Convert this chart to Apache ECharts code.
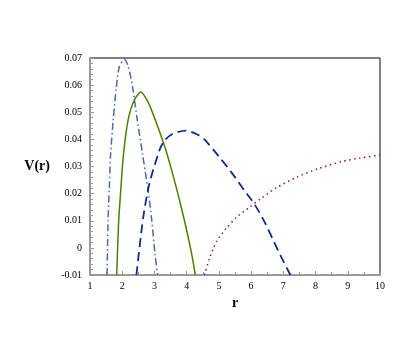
<!DOCTYPE html>
<html>
<head>
<meta charset="utf-8">
<script src="https://cdn.jsdelivr.net/npm/echarts@6/dist/echarts.min.js"></script>
<style>
    html, body { margin: 0; padding: 0; background: #fff; }
    #chart-container { width: 415px; height: 355px; }
</style>
</head>
<body>
<div id="chart-container"></div>
<script>
// 點劃線 (藍灰)
const dashDotR = [1.53, 1.56, 1.60, 1.64, 1.72, 1.82, 1.91, 2.06, 2.19, 2.32, 2.47, 2.63, 2.79, 2.92, 3.02, 3.10];
const dashDotV = [-0.01, 0.0098, 0.0222, 0.0346, 0.0470, 0.0594, 0.0668, 0.0696, 0.0668, 0.0594, 0.0470, 0.0346, 0.0222, 0.0098, -0.0026, -0.01];

// 實線 (綠)
const solidR = [1.83, 1.85, 1.89, 1.96, 2.04, 2.18, 2.37, 2.58, 2.79, 2.99, 3.36, 3.65, 3.91, 4.14, 4.27];
const solidV = [-0.01, -0.0026, 0.0098, 0.0222, 0.0346, 0.0470, 0.0544, 0.0575, 0.0540, 0.0483, 0.0358, 0.0235, 0.0111, -0.0013, -0.01];

// 虛線 (深藍)
const dashR = [2.44, 2.65, 2.84, 3.15, 3.31, 3.56, 3.98, 4.30, 4.55, 5.02, 5.43, 5.80, 6.11, 6.42, 6.68, 6.94, 7.22];
const dashV = [-0.01, 0.0111, 0.0235, 0.0358, 0.0396, 0.0420, 0.0432, 0.0420, 0.0400, 0.0334, 0.0272, 0.0210, 0.0160, 0.0095, 0.0030, -0.0035, -0.01];

// 點線 (暗紅)
const dotR = [4.55, 4.71, 4.93, 5.23, 5.54, 5.95, 6.32, 6.79, 7.41, 8.08, 8.81, 9.38, 10];
const dotV = [-0.01, -0.0038, 0.0024, 0.0072, 0.0112, 0.0150, 0.0183, 0.0222, 0.0260, 0.0292, 0.0318, 0.0331, 0.0342];

const zip = (xs, ys) => xs.map((x, i) => [x, ys[i]]);

const chart = echarts.init(document.getElementById('chart-container'));

const serif = 'Liberation Serif';

const lineBase = { type: 'line', smooth: 0.25, showSymbol: false };

const option = {
    animation: false,
    grid: {
        left: 90,
        right: 35,
        top: 58,
        bottom: 80,
        show: true,
        borderColor: '#000',
        borderWidth: 1
    },
    xAxis: {
        type: 'value',
        min: 1,
        max: 10,
        interval: 1,
        name: 'r',
        nameLocation: 'middle',
        nameGap: 15,
        nameTextStyle: { fontFamily: serif, fontSize: 14, fontWeight: 'bold', color: '#000' },
        axisLine: { onZero: false, lineStyle: { color: '#999', width: 2 } },
        axisTick: { inside: true, length: 4, lineStyle: { color: '#999' } },
        minorTick: { show: true, splitNumber: 2, length: 3, lineStyle: { color: '#999' } },
        axisLabel: { fontFamily: serif, fontSize: 10, color: '#000', margin: 6 },
        splitLine: { show: false }
    },
    yAxis: {
        type: 'value',
        min: -0.01,
        max: 0.07,
        interval: 0.01,
        name: 'V(r)',
        nameLocation: 'middle',
        nameRotate: 0,
        nameGap: 40,
        nameTextStyle: { fontFamily: serif, fontSize: 14, fontWeight: 'bold', color: '#000' },
        axisLine: { onZero: false, lineStyle: { color: '#999', width: 2 } },
        axisTick: { inside: true, length: 4, lineStyle: { color: '#999' } },
        minorTick: { show: true, splitNumber: 5, length: 3, lineStyle: { color: '#999' } },
        axisLabel: {
            fontFamily: serif, fontSize: 10, color: '#000', margin: 8,
            formatter: v => String(+v.toFixed(2))
        },
        splitLine: { show: false }
    },
    series: [
        Object.assign({}, lineBase, {
            data: zip(dashDotR, dashDotV),
            lineStyle: { color: '#4a6aa8', width: 1.5, type: [7, 3, 1.5, 3] }
        }),
        Object.assign({}, lineBase, {
            data: zip(solidR, solidV),
            lineStyle: { color: '#4a8000', width: 1.5, type: 'solid' }
        }),
        Object.assign({}, lineBase, {
            data: zip(dashR, dashV),
            lineStyle: { color: '#102a8c', width: 1.8, type: [9, 5] }
        }),
        Object.assign({}, lineBase, {
            data: zip(dotR, dotV),
            lineStyle: { color: '#9a1a30', width: 1.5, type: [1.5, 3.5] }
        })
    ]
};

chart.setOption(option);
</script>
</body>
</html>
